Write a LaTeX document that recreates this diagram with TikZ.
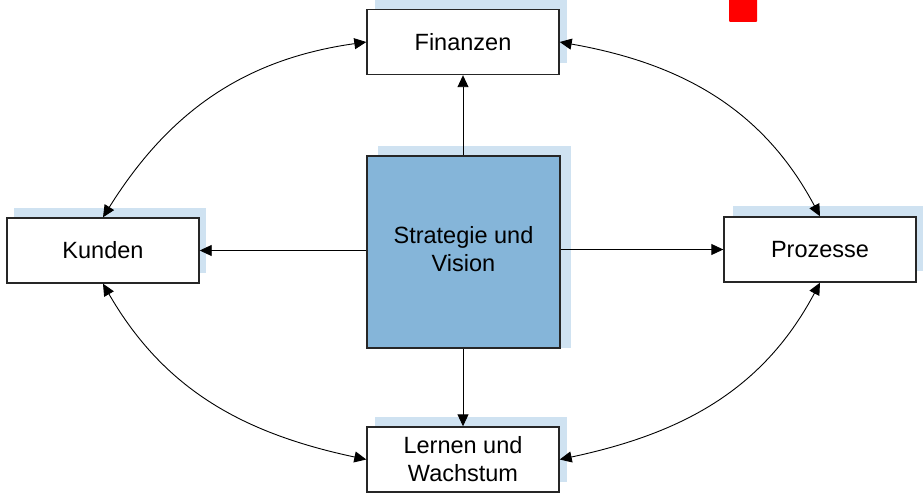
\documentclass[tikz,border=0pt]{standalone}
\usepackage{fontspec}
\setmainfont{Liberation Sans}
\usetikzlibrary{arrows.meta}
\definecolor{shadowblue}{HTML}{CFE2F1}
\definecolor{centerblue}{HTML}{85B5D9}
\begin{document}
\begin{tikzpicture}[x=1pt,y=1pt,
  box/.style={draw=black!85, line width=1.4pt, fill=white, rectangle, inner sep=0pt,
    minimum width=192pt, minimum height=65pt, align=center,
    font=\fontsize{23.5}{28}\selectfont},
  shade/.style={fill=shadowblue, draw=none},
  conn/.style={line width=0.9pt, -{Triangle[length=12pt,width=11pt]}},
  dconn/.style={line width=0.9pt, {Triangle[length=12pt,width=11pt]}-{Triangle[length=12pt,width=11pt]}}]
\useasboundingbox (0,0) rectangle (923,493);
% shadows
\fill[shade] (375,430) rectangle (567,495);
\fill[shade] (14,220) rectangle (206,285);
\fill[shade] (733,222) rectangle (923,287);
\fill[shade] (375,11) rectangle (567,76);
\fill[shade] (378,145) rectangle (571,347);
% red mark
\fill[red, rounded corners=1pt] (729,471) rectangle (757,494);
% nodes
\node[box] (fin) at (463,451) {Finanzen};
\node[box] (kun) at (103,242.5) {Kunden};
\node[box] (pro) at (820,243.5) {Prozesse};
\node[box] (ler) at (463,33.5) {Lernen und\\Wachstum};
\node[box, fill=centerblue, minimum width=193pt, minimum height=192pt] (sv) at (463.5,241)
  {\raisebox{-9pt}{\begin{tabular}{@{}c@{}}Strategie und\\Vision\end{tabular}}};
% straight arrows
\draw[conn] (sv.north -| fin.south) -- (fin.south);
\draw[conn] (sv.west |- kun.east) -- (kun.east);
\draw[conn] (sv.east |- pro.west) -- (pro.west);
\draw[conn] (sv.south -| ler.north) -- (ler.north);
% curved double arrows
\draw[dconn] (kun.north) to[out=58, in=188] (fin.west);
\draw[dconn] (fin.east) to[out=-10, in=118] (pro.north);
\draw[dconn] (kun.south) to[out=-60, in=168] (ler.west);
\draw[dconn] (pro.south) to[out=-118, in=12] (ler.east);
\end{tikzpicture}
\end{document}
